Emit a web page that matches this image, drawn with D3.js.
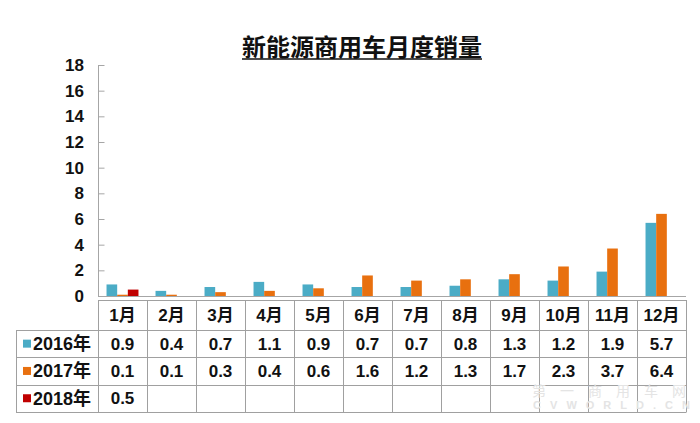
<!DOCTYPE html>
<html><head><meta charset="utf-8">
<script src="https://cdn.jsdelivr.net/npm/d3@7"></script>
<style>
html,body{margin:0;padding:0;background:#fff;}
svg{display:block;font-family:"Liberation Sans",Arial,"Noto Sans CJK SC",sans-serif;}
</style></head>
<body>
<svg id="c" width="700" height="423"></svg>
<script>
const title = "新能源商用车月度销量";
const months = ["1月","2月","3月","4月","5月","6月","7月","8月","9月","10月","11月","12月"];
const seriesNames = ["2016年","2017年","2018年"];
const s2016 = [0.9,0.4,0.7,1.1,0.9,0.7,0.7,0.8,1.3,1.2,1.9,5.7];
const s2017 = [0.1,0.1,0.3,0.4,0.6,1.6,1.2,1.3,1.7,2.3,3.7,6.4];
const s2018 = [0.5,null,null,null,null,null,null,null,null,null,null,null];
const yTicks = [0,2,4,6,8,10,12,14,16,18];
const colors = ["#4BACC6","#E8700F","#C00000"];

const seriesData = [s2016, s2017, s2018];
const svg = d3.select("#c");

const plotLeft = 98, plotRight = 686, plotTop = 65, plotBottom = 296;
const x0 = d3.scaleBand().domain(months).range([plotLeft, plotRight]).padding(0);
const x1 = d3.scaleBand().domain(seriesNames).range([0, x0.bandwidth()]).paddingInner(0).paddingOuter(0.8);
const y = d3.scaleLinear().domain([0,18]).range([plotBottom, plotTop]);

// title
const t = svg.append("text").attr("x",362).attr("y",56).attr("text-anchor","middle")
  .attr("font-family","'Noto Sans CJK SC',sans-serif").attr("font-weight","bold")
  .attr("font-size",24).attr("fill","#111").text(title);
const tb = t.node().getBBox();
svg.append("line").attr("x1",tb.x).attr("x2",tb.x+tb.width).attr("y1",59).attr("y2",59)
  .attr("stroke","#111").attr("stroke-width",1.5);

// y axis
const yAxis = d3.axisLeft(y).tickValues(yTicks).tickSize(-6).tickPadding(14);
const ga = svg.append("g").attr("transform",`translate(${plotLeft},0)`).call(yAxis);
ga.select(".domain").attr("stroke","#a6a6a6").attr("d",`M0.5,${plotTop}V${plotBottom}`);
ga.selectAll(".tick line").attr("stroke","#a6a6a6").attr("transform","translate(0.5,0)");
ga.selectAll(".tick text").attr("font-size",17).attr("font-weight","bold").attr("fill","#111")
  .attr("font-family","'Liberation Sans',Arial,sans-serif");

// bars
seriesData.forEach((vals, si) => {
  svg.append("g").selectAll("rect").data(vals.map((v,i)=>({v, m:months[i]})).filter(d=>d.v!=null))
    .enter().append("rect")
    .attr("x", d => x0(d.m) + x1(seriesNames[si]))
    .attr("width", x1.bandwidth())
    .attr("y", d => y(d.v))
    .attr("height", d => y(0) - y(d.v))
    .attr("fill", colors[si]);
});

// baseline
svg.append("line").attr("x1",plotLeft).attr("x2",plotRight).attr("y1",plotBottom+0.5).attr("y2",plotBottom+0.5)
  .attr("stroke","#a6a6a6").attr("stroke-width",1);

// table
const tableTop = 300, headerBottom = 330, rowH = 27.3, legendLeft = 16;
const rowY = i => headerBottom + i*rowH;
const grid = svg.append("g").attr("stroke","#a0a0a0").attr("stroke-width",1);
grid.append("line").attr("x1",plotLeft).attr("x2",plotRight).attr("y1",tableTop+0.5).attr("y2",tableTop+0.5);
for (let i=0;i<=3;i++){
  grid.append("line").attr("x1",legendLeft).attr("x2",plotRight).attr("y1",Math.round(rowY(i))+0.5).attr("y2",Math.round(rowY(i))+0.5);
}
grid.append("line").attr("x1",legendLeft+0.5).attr("x2",legendLeft+0.5).attr("y1",headerBottom).attr("y2",Math.round(rowY(3))+0.5);
months.concat(["end"]).forEach((m,i)=>{
  const xx = i<months.length ? x0(m) : plotRight;
  grid.append("line").attr("x1",Math.round(xx)+0.5).attr("x2",Math.round(xx)+0.5).attr("y1",tableTop).attr("y2",Math.round(rowY(3))+0.5);
});

// watermark (drawn under table text)
const wm = svg.append("g").attr("fill","#e4e4e4");
wm.append("text").attr("x",616).attr("y",396).attr("text-anchor","middle")
  .attr("font-size",14).attr("letter-spacing",14).attr("font-family","'Noto Sans CJK SC',sans-serif").text("第一商用车网");
wm.append("text").attr("x",616).attr("y",409).attr("text-anchor","middle")
  .attr("font-size",11).attr("font-weight","bold").attr("letter-spacing",9).text("CVWORLD.CN");

const txt = svg.append("g").attr("font-size",17).attr("font-weight","bold").attr("fill","#111");
txt.selectAll("text.h").data(months).enter().append("text")
  .attr("x", d => x0(d)+x0.bandwidth()/2).attr("y", (tableTop+headerBottom)/2)
  .attr("dy","0.36em").attr("text-anchor","middle").text(d=>d);
seriesData.forEach((vals, si) => {
  const cy = rowY(si) + rowH/2;
  txt.append("rect").attr("x",23).attr("y",cy-4).attr("width",8).attr("height",8).attr("fill",colors[si]);
  txt.append("text").attr("x",33).attr("y",cy).attr("dy","0.36em").attr("font-size",18).text(seriesNames[si]);
  vals.forEach((v,i)=>{
    if (v==null) return;
    txt.append("text").attr("x",x0(months[i])+x0.bandwidth()/2).attr("y",cy).attr("dy","0.36em")
      .attr("text-anchor","middle").text(v.toFixed(1));
  });
});
</script>
</body></html>
